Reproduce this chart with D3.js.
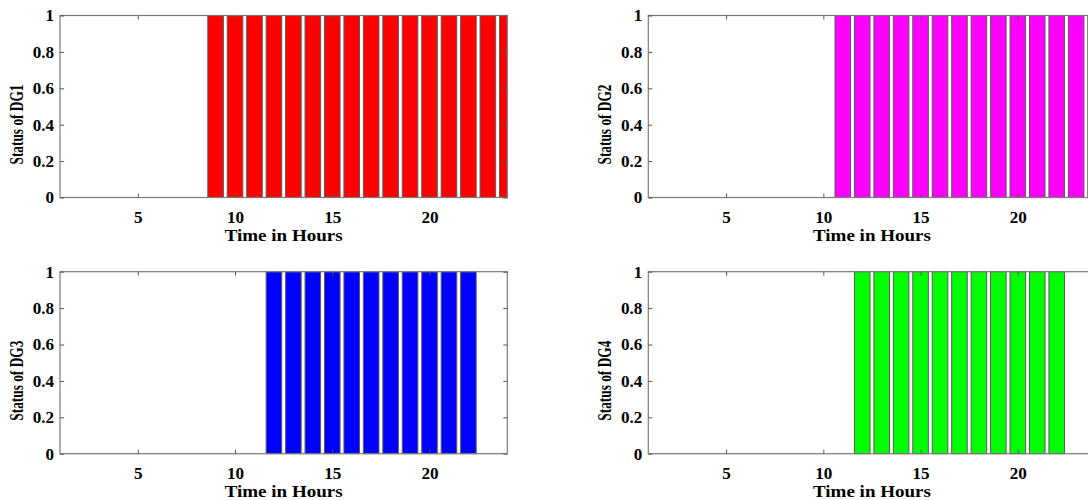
<!DOCTYPE html>
<html>
<head>
<meta charset="utf-8">
<script src="https://cdn.jsdelivr.net/npm/d3@7"></script>
<style>
  html, body { margin: 0; padding: 0; background: #fff; overflow: hidden; }
  svg { display: block; }
  text { font-family: "Liberation Serif", "Times New Roman", serif; font-weight: bold; fill: #000; }
</style>
</head>
<body>
<svg id="chart" width="1088" height="500"></svg>
<script>
// Hourly on/off commitment of the four distributed generators
const hours = [1, 2, 3, 4, 5, 6, 7, 8, 9, 10, 11, 12, 13, 14, 15, 16, 17, 18, 19, 20, 21, 22, 23, 24];
const dg1Status = [0, 0, 0, 0, 0, 0, 0, 0, 1, 1, 1, 1, 1, 1, 1, 1, 1, 1, 1, 1, 1, 1, 1, 1];
const dg2Status = [0, 0, 0, 0, 0, 0, 0, 0, 0, 0, 1, 1, 1, 1, 1, 1, 1, 1, 1, 1, 1, 1, 1, 1];
const dg3Status = [0, 0, 0, 0, 0, 0, 0, 0, 0, 0, 0, 1, 1, 1, 1, 1, 1, 1, 1, 1, 1, 1, 0, 0];
const dg4Status = [0, 0, 0, 0, 0, 0, 0, 0, 0, 0, 0, 1, 1, 1, 1, 1, 1, 1, 1, 1, 1, 1, 0, 0];

const unitNames = ["DG1", "DG2", "DG3", "DG4"];
const unitColors = ["#ff0000", "#ff00ff", "#0000ff", "#00ff00"];
const xTicks = [5, 10, 15, 20];
const yTicks = [0, 0.2, 0.4, 0.6, 0.8, 1];
const xLabel = "Time in Hours";

const statusSeries = [dg1Status, dg2Status, dg3Status, dg4Status];

const svg = d3.select("#chart");
const panelW = 447.3, panelH = 182;
const lefts = [60, 648.3], tops = [15.5, 271.7];
const barWidth = 0.8;
const stretch = 1.07;
const axisGrey = "#7a7a7a";

const fmtY = d => (d === 0 || d === 1) ? String(d) : d.toFixed(1);

statusSeries.forEach((values, i) => {
  const col = i % 2, row = Math.floor(i / 2);
  const g = svg.append("g").attr("transform", `translate(${lefts[col]},${tops[row]})`);

  const x = d3.scaleLinear().domain([1, 24]).range([0, panelW]);
  const y = d3.scaleLinear().domain([0, 1]).range([panelH, 0]);

  const clipId = "clip" + i;
  g.append("clipPath").attr("id", clipId)
    .append("rect").attr("x", 0).attr("y", -1).attr("width", panelW).attr("height", panelH + 2);

  const data = hours.map((h, k) => ({ h, v: values[k] })).filter(d => d.v > 0);

  g.append("g").attr("clip-path", `url(#${clipId})`)
    .selectAll("rect").data(data).join("rect")
    .attr("x", d => x(d.h - barWidth / 2))
    .attr("width", d => x(d.h + barWidth / 2) - x(d.h - barWidth / 2))
    .attr("y", d => y(d.v))
    .attr("height", d => y(0) - y(d.v))
    .attr("fill", unitColors[i])
    .attr("stroke", "#5a5a5a")
    .attr("stroke-width", 1);

  // box outline
  g.append("rect").attr("x", 0).attr("y", 0).attr("width", panelW).attr("height", panelH)
    .attr("fill", "none").attr("stroke", axisGrey).attr("stroke-width", 1.2);

  // axes with inward ticks
  const bottom = g.append("g").attr("transform", `translate(0,${panelH})`)
    .call(d3.axisBottom(x).tickValues(xTicks).tickSize(-4).tickPadding(14).tickFormat(d3.format("d")));
  const top = g.append("g")
    .call(d3.axisTop(x).tickValues(xTicks).tickSize(-4).tickFormat(""));
  const left = g.append("g")
    .call(d3.axisLeft(y).tickValues(yTicks).tickSize(-4).tickPadding(9).tickFormat(fmtY));
  const right = g.append("g").attr("transform", `translate(${panelW},0)`)
    .call(d3.axisRight(y).tickValues(yTicks).tickSize(-4).tickFormat(""));

  [bottom, top, left, right].forEach(a => {
    a.select(".domain").remove();
    a.selectAll(".tick line").attr("stroke", "#555").attr("stroke-width", 1);
  });
  bottom.selectAll(".tick text")
    .style("font-size", "16px").attr("fill", "#000")
    .attr("transform", `scale(${stretch},1)`);
  left.selectAll(".tick text")
    .style("font-size", "16px").attr("fill", "#000")
    .attr("x", -6 / stretch).attr("dy", "0.34em")
    .attr("transform", `scale(${stretch},1)`);

  // axis titles
  g.append("text")
    .attr("transform", `translate(${panelW / 2},${panelH + 43.5})`)
    .attr("text-anchor", "middle")
    .style("font-size", "17px")
    .attr("textLength", 118).attr("lengthAdjust", "spacingAndGlyphs")
    .text(xLabel);

  g.append("text")
    .attr("transform", `translate(-37,${panelH / 2 + 18}) rotate(-90)`)
    .attr("text-anchor", "middle")
    .style("font-size", "18px")
    .attr("textLength", 80).attr("lengthAdjust", "spacingAndGlyphs")
    .text("Status of " + unitNames[i]);
});
</script>
</body>
</html>
